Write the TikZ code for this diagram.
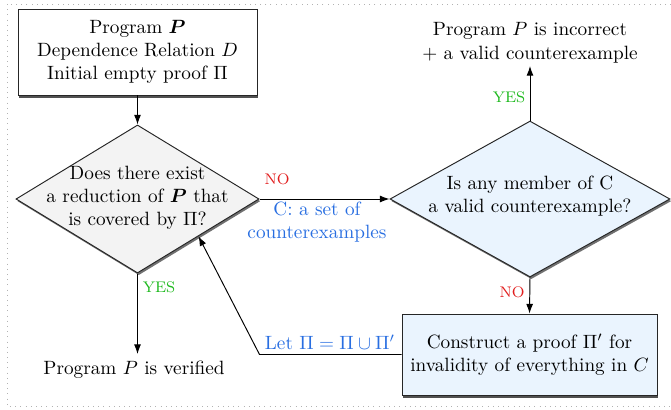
\documentclass[tikz,border=0pt]{standalone}
\usepackage{amsmath,bm}
\usetikzlibrary{shapes.geometric,arrows.meta,shadows,calc}
\definecolor{lblue}{RGB}{40,110,225}
\definecolor{lgreen}{RGB}{30,185,30}
\definecolor{lred}{RGB}{225,30,30}
\definecolor{pfill}{RGB}{234,244,254}
\definecolor{gfill}{RGB}{243,243,243}
\begin{document}
\begin{tikzpicture}[x=0.52pt,y=-0.52pt,
  shad/.style={drop shadow={shadow xshift=0.7pt,shadow yshift=-1.1pt,opacity=0.75,fill=black!75}},
  bshad/.style={drop shadow={shadow xshift=0.4pt,shadow yshift=-1.4pt,opacity=0.85,fill=black!80}},
  boxstyle/.style={draw=black!85,line width=0.5pt,rectangle,align=center,inner sep=0pt,bshad},
  decstyle/.style={draw=black!85,line width=0.5pt,diamond,inner sep=0pt,shad},
  txt/.style={align=center,inner sep=0pt},
  conn/.style={draw=black,line width=0.5pt,-{Latex[length=5pt,width=3.6pt]}},
  lab/.style={font=\footnotesize,inner sep=0pt},
  blab/.style={text=lblue,align=center,inner sep=0pt}]
\useasboundingbox (0,0) rectangle (671,409);
\draw[gray!60,line width=0.5pt,dash pattern=on 0.5pt off 2.2pt] (7,4) rectangle (690,406);

\node[boxstyle,fill=white,minimum width=124.3pt,minimum height=44.7pt] (start) at (137.5,52)
  {Program $\bm{P}$\\ Dependence Relation $D$\\ Initial empty proof $\Pi$};

\node[decstyle,fill=gfill,minimum width=126.4pt,minimum height=77pt] (d1) at (137.5,199) {};
\node[txt] (d1t) at (137.5,198) {Does there exist\\ a reduction of $\bm{P}$ that\\ is covered by $\Pi$?};

\node[decstyle,fill=pfill,minimum width=145.6pt,minimum height=81.1pt] (d2) at (530,199) {};
\node[txt] (d2t) at (530,196) {Is any member of C\\ a valid counterexample?};

\node[txt,inner sep=1.5pt,anchor=south] (incorrect) at (530,66)
  {Program $P$ is incorrect\\ $+$ a valid counterexample};

\node[txt,inner sep=3.5pt,anchor=north] (verified) at (134,354) {Program $P$ is verified};

\node[boxstyle,fill=pfill,minimum width=132.6pt,minimum height=42.1pt] (box2) at (529.5,354.5)
  {Construct a proof $\Pi'$ for\\ invalidity of everything in $C$};

\coordinate (bend) at (d1.east |- box2.west);
\coordinate (back) at ($(d1.east)!0.5!(d1.south)$);

\draw[conn] (start.south) -- (d1.north);
\draw[conn] (d1.east) -- (d2.west);
\draw[conn] (d2.north) -- (incorrect.south);
\draw[conn] (d2.south) -- (box2.north);
\draw[conn] (d1.south) -- (d1.south |- verified.north);
\draw[conn] (box2.west) -- (bend) -- (back);

\node[lab,text=lred] (no1) at (277,179) {NO};
\node[blab] (cset) at (317,222) {C: a set of\\ counterexamples};
\node[lab,text=lgreen] (yes1) at (509,97) {YES};
\node[lab,text=lred] (no2) at (512,292) {NO};
\node[lab,text=lgreen] (yes2) at (159,287) {YES};
\node[blab] (letpi) at (330,342) {Let $\Pi = \Pi \cup \Pi'$};
\end{tikzpicture}
\end{document}
